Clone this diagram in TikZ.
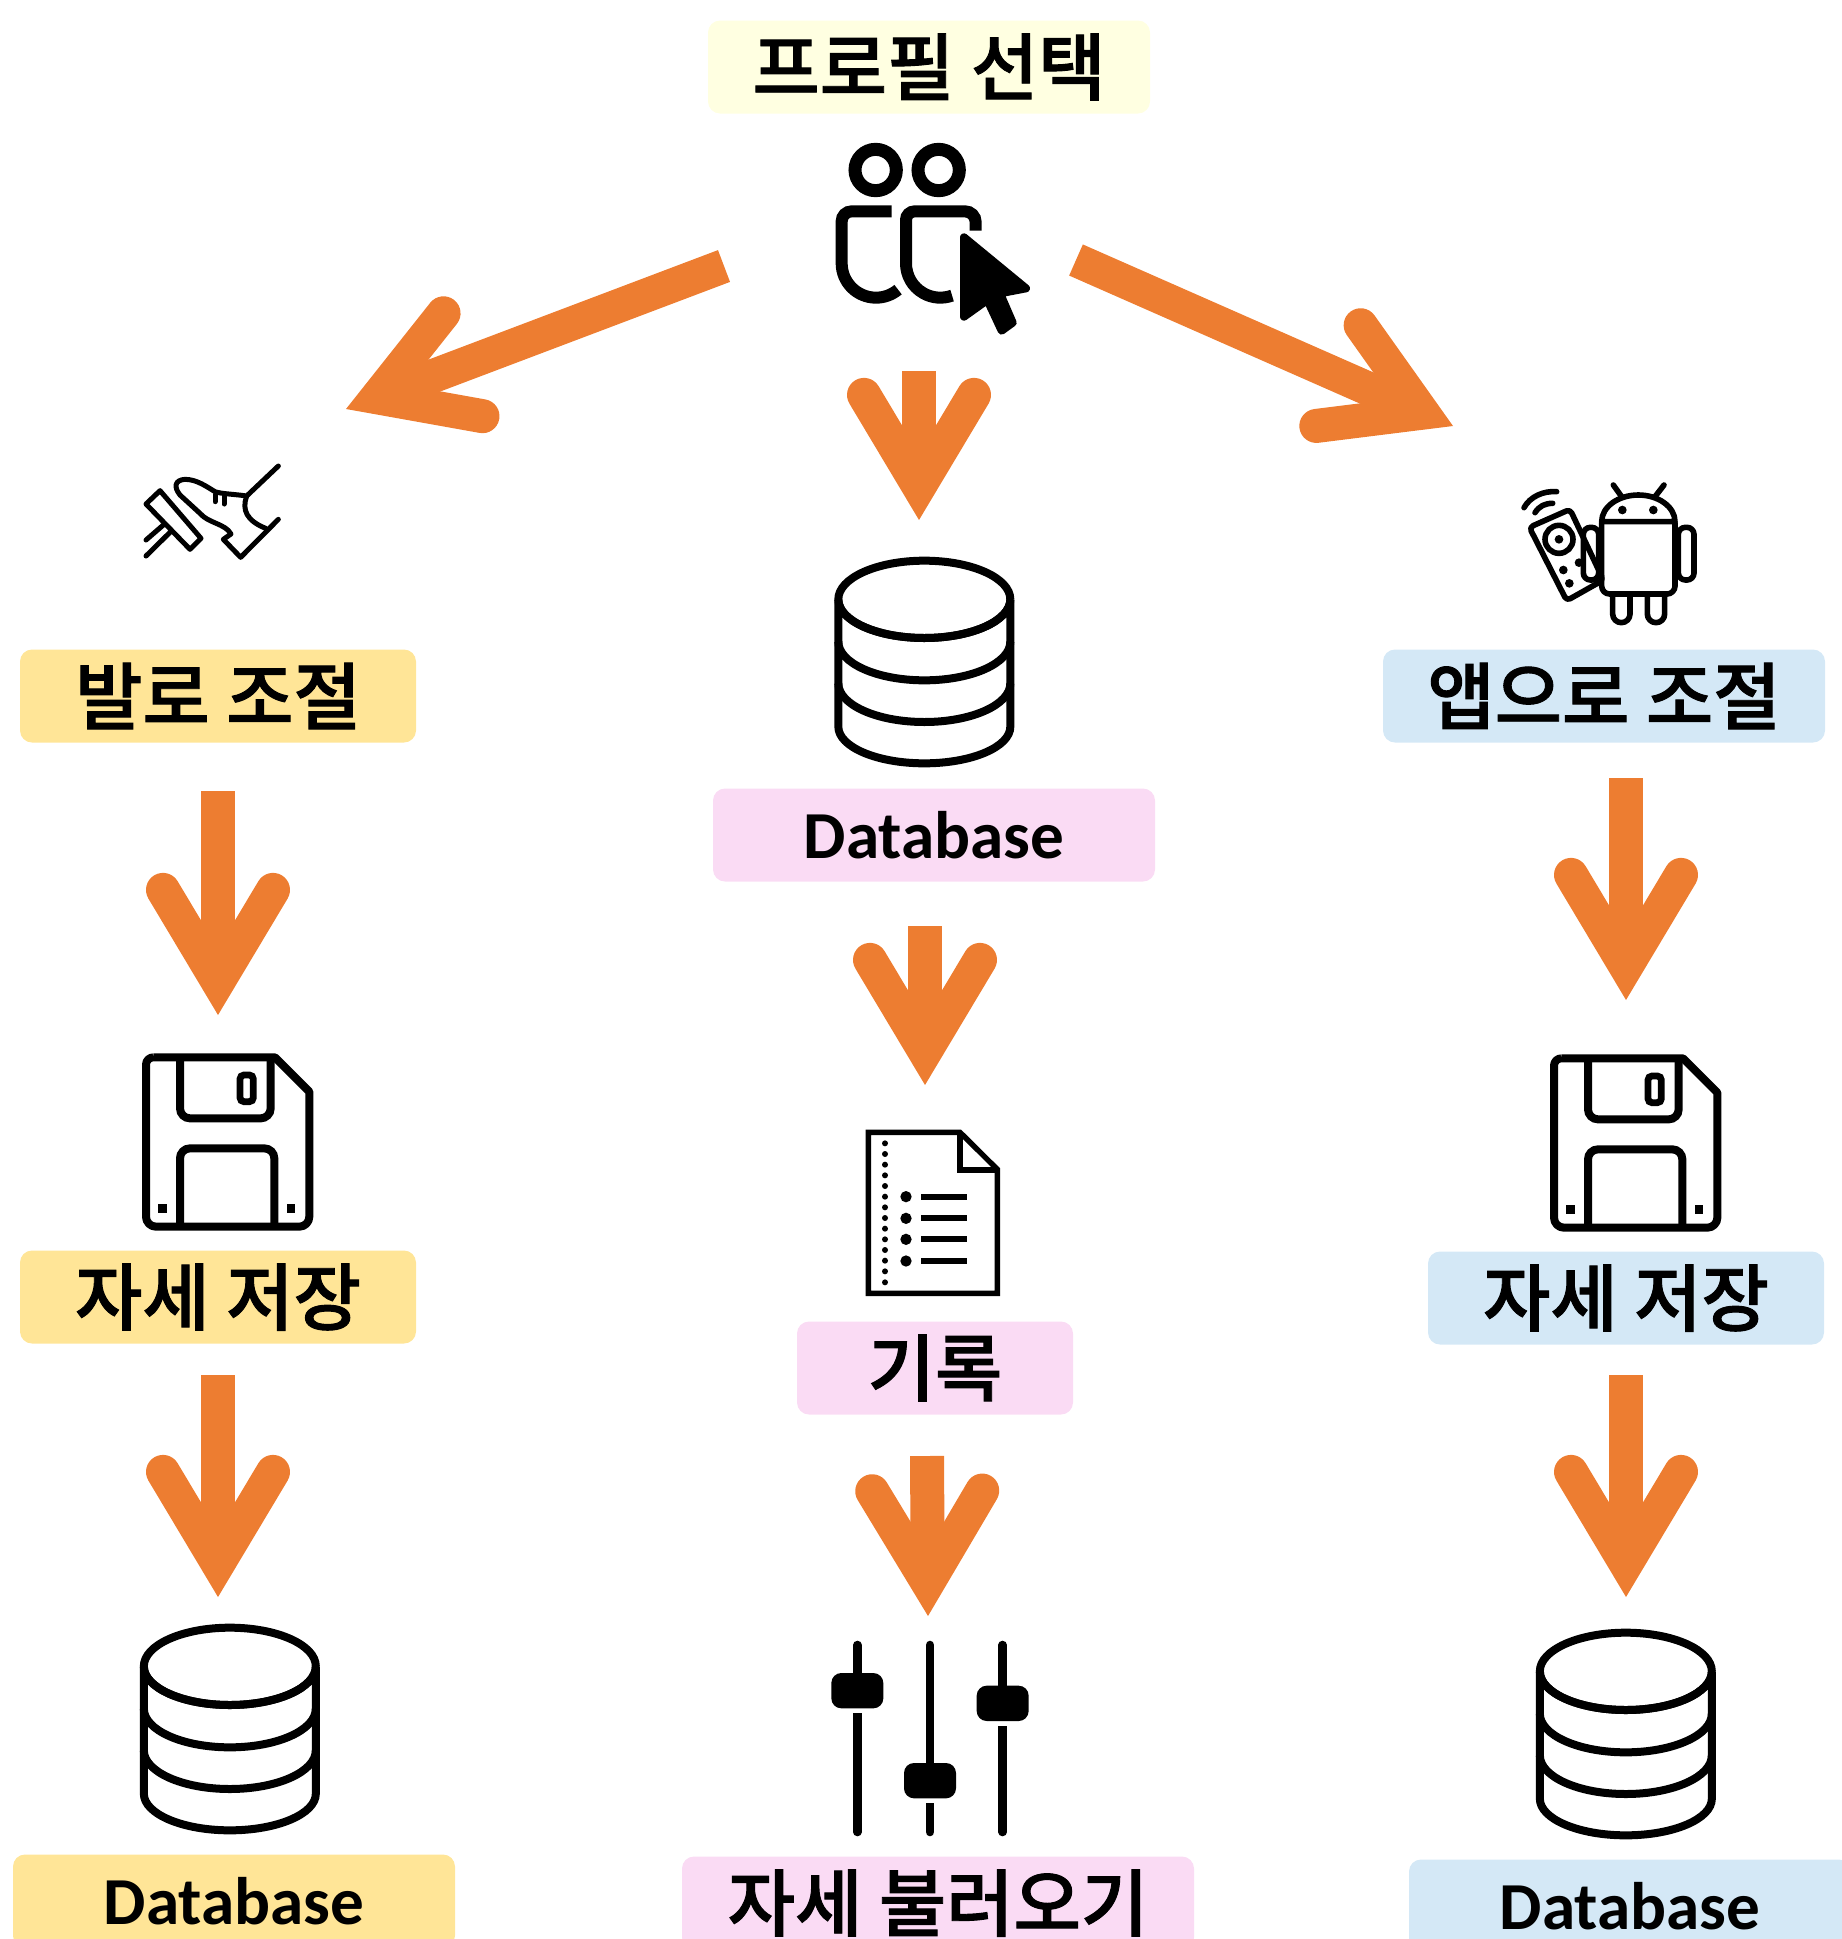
\documentclass[tikz,border=0pt]{standalone}
\usepackage{fontspec}
\setmainfont{Carlito}
\newfontfamily\kofont{Noto Sans CJK KR Medium}[FakeBold=1.3]
\usetikzlibrary{arrows.meta}
\definecolor{flowOrange}{HTML}{ED7D31}
\definecolor{selYellow}{HTML}{FFFFE1}
\definecolor{footYellow}{HTML}{FFE597}
\definecolor{appBlue}{HTML}{D4E8F6}
\definecolor{loadPink}{HTML}{FADBF4}
\tikzset{
  flowarrow/.style={draw=flowOrange,line width=17pt,-{Straight Barb[length=46pt,width=55pt,line width=17pt,line cap=round,line join=miter,color=flowOrange]}},
  labelbox/.style={rounded corners=6pt,inner sep=0pt,minimum height=46.5pt,font=\kofont\fontsize{36.6}{36}\selectfont,text=black},
  dbbox/.style={labelbox,font=\bfseries\fontsize{33.6}{33}\selectfont},
  dbicon/.pic={
    \draw[line width=4pt] (85,178) -- (85,560) arc[start angle=180,end angle=0,x radius=258,y radius=110] -- (601,178) arc[start angle=0,end angle=360,x radius=258,y radius=116];
    \foreach \dby in {178,305,430} {
      \draw[line width=4pt] (85,\dby) arc[start angle=180,end angle=0,x radius=258,y radius=116];
    }
  },
  floppyicon/.pic={
    \draw[line width=4pt,line join=round] (100,52) -- (465,52) -- (568,155) -- (568,530) arc[start angle=0,end angle=90,radius=30] -- (108,560) arc[start angle=90,end angle=180,radius=30] -- (78,74) arc[start angle=180,end angle=270,radius=22];
    \draw[line width=4pt] (180,52) -- (180,205) arc[start angle=180,end angle=90,radius=30] -- (422,235) arc[start angle=90,end angle=0,radius=30] -- (452,52);
    \draw[line width=4pt] (180,560) -- (180,355) arc[start angle=180,end angle=270,radius=30] -- (433,325) arc[start angle=270,end angle=360,radius=30] -- (463,560);
    \draw[line width=3.4pt,rounded corners=2pt] (360,105) rectangle (400,185);
    \fill (115,492) rectangle (141,518);
    \fill (500,492) rectangle (526,518);
  }
}
\begin{document}
\begin{tikzpicture}[x=0.5pt,y=-0.5pt]
\clip (0,0) rectangle (1842,1939);

% label boxes
\node[labelbox,fill=selYellow,minimum width=221pt] (profile) at (929,67) {프로필 선택};
\node[labelbox,fill=footYellow,minimum width=198pt] (foot) at (218,696) {발로 조절};
\node[labelbox,fill=footYellow,minimum width=198pt] (footsave) at (218,1297) {자세 저장};
\node[dbbox,fill=footYellow,minimum width=221pt] (footdb) at (234,1901) {Database};
\node[dbbox,fill=loadPink,minimum width=221pt] (loaddb) at (934,835) {Database};
\node[labelbox,fill=loadPink,minimum width=138pt] (record) at (935,1368) {기록};
\node[labelbox,fill=loadPink,minimum width=256pt] (loadpose) at (938,1903) {자세 불러오기};
\node[labelbox,fill=appBlue,minimum width=221pt] (app) at (1604,696) {앱으로 조절};
\node[labelbox,fill=appBlue,minimum width=198pt] (appsave) at (1626,1298) {자세 저장};
\node[dbbox,fill=appBlue,minimum width=221pt] (appdb) at (1630,1906) {Database};

% arrow ends
\coordinate (leftA) at (724,266);
\coordinate (leftB) at (346,409);
\coordinate (rightA) at (1076,260);
\coordinate (rightB) at (1453,426);
\coordinate (midA) at (919,371);
\coordinate (midB) at (919,520);
\coordinate (midC) at (925,926);
\coordinate (midD) at (925,1085);
\coordinate (midE) at (927,1456);
\coordinate (midF) at (928,1616);
\coordinate (footA) at (218,791);
\coordinate (footB) at (218,1015);
\coordinate (footC) at (218,1375);
\coordinate (footD) at (218,1597);
\coordinate (appA) at (1626,778);
\coordinate (appB) at (1626,1000);
\coordinate (appC) at (1626,1375);
\coordinate (appD) at (1626,1597);

\draw[flowarrow] (leftA) -- (leftB);
\draw[flowarrow] (rightA) -- (rightB);
\draw[flowarrow] (midA) -- (midB);
\draw[flowarrow] (midC) -- (midD);
\draw[flowarrow] (midE) -- (midF);
\draw[flowarrow] (footA) -- (footB);
\draw[flowarrow] (footC) -- (footD);
\draw[flowarrow] (appA) -- (appB);
\draw[flowarrow] (appC) -- (appD);

% people with cursor
\begin{scope}[shift={(780,0)},scale=1/3]
  \draw[line width=6.5pt] (287,510) circle (62);
  \draw[line width=6.5pt] (476,510) circle (62);
  \draw[line width=6pt] (335,634) -- (215,634) arc[start angle=270,end angle=180,radius=30] -- (185,790) arc[start angle=180,end angle=50,radius=103];
  \draw[line width=6pt] (587,692) -- (587,666) arc[start angle=0,end angle=-90,radius=32] -- (404,634) arc[start angle=270,end angle=180,radius=26] -- (378,790) arc[start angle=180,end angle=70,radius=103];
  \fill[draw,line width=4pt,line join=round] (552,712) -- (738,865) -- (660,880) -- (698,968) -- (665,992) -- (622,900) -- (552,950) -- cycle;
\end{scope}

% foot on pedal
\begin{scope}[shift={(100,430)},scale=1/3,line width=2.5pt,line cap=round,line join=round]
  \draw (180,182) -- (303,325) -- (270,358) -- (138,222) -- cycle;
  \draw (190,285) -- (138,330);
  \draw (212,305) -- (138,378);
  \draw (535,108) -- (440,198) .. controls (400,192) and (365,192) .. (345,185) .. controls (320,170) and (290,148) .. (255,148) .. controls (225,150) and (220,170) .. (240,195) -- (300,250) .. controls (325,280) and (375,280) .. (393,312) -- (370,328) -- (422,382) -- (535,268);
  \draw (440,198) .. controls (425,240) and (440,272) .. (497,295);
  \draw (345,195) -- (345,215);
  \draw (372,200) -- (372,222);
\end{scope}

% android with remote
\begin{scope}[shift={(1500,470)},scale=1/3,line width=2.8pt,line cap=round,line join=round]
  \draw[rounded corners=4pt] (305,158) -- (305,372) -- (525,372) -- (525,158);
  \draw (305,155) arc[start angle=180,end angle=360,x radius=110,y radius=80] -- cycle;
  \fill (367,120) circle (13);
  \fill (460,120) circle (13);
  \draw (340,45) -- (365,80);
  \draw (492,45) -- (465,80);
  \draw[rounded corners=3.5pt] (535,172) rectangle (582,330);
  \draw[rounded corners=3.5pt] (250,172) rectangle (296,330);
  \draw (338,375) -- (338,432) arc[start angle=180,end angle=0,radius=26] -- (390,375);
  \draw (442,375) -- (442,432) arc[start angle=180,end angle=0,radius=26] -- (494,375);
  \draw[rounded corners=2pt] (88,172) -- (210,118) -- (310,330) -- (200,392) -- cycle;
  \draw (177,208) circle (42);
  \fill (177,208) circle (13);
  \fill (190,300) circle (13);
  \fill (237,278) circle (13);
  \fill (208,340) circle (13);
  \draw (72,113) .. controls (90,80) and (130,62) .. (170,65);
  \draw (105,128) .. controls (118,108) and (135,100) .. (158,100);
\end{scope}

% database icons
\pic[scale=1/3] at (810,540) {dbicon};
\pic[scale=1/3] at (115.5,1607) {dbicon};
\pic[scale=1/3] at (1511.5,1612) {dbicon};

% floppy icons
\pic[scale=1/3] at (120,1040) {floppyicon};
\pic[scale=1/3] at (1528,1041) {floppyicon};

% record sheet
\begin{scope}[shift={(840,1110)},scale=1/3]
  \draw[line width=2.7pt] (85,67) -- (360,67) -- (472,178) -- (472,550) -- (85,550) -- cycle;
  \draw[line width=2.7pt] (360,67) -- (360,180) -- (472,180);
  \foreach \rowy in {100,132,164,196,228,260,292,324,356,388,420,452,484,517} {
    \fill (135,\rowy) circle (9);
  }
  \foreach \rowy in {260,325,388,453} {
    \fill (198,\rowy) circle (17);
    \draw[line width=3pt] (243,\rowy) -- (380,\rowy);
  }
\end{scope}

% sliders
\begin{scope}[shift={(810,1620)},scale=1/3]
  \foreach \sx/\sy in {142/212,360/482,578/250} {
    \draw[line width=4.3pt,line cap=round] (\sx,75) -- (\sx,636);
    \draw[white,line width=5pt] (\sx,\sy+50) -- (\sx,\sy+67);
    \fill[rounded corners=5pt] (\sx-78,\sy-53) rectangle (\sx+78,\sy+53);
  }
\end{scope}
\end{tikzpicture}
\end{document}
